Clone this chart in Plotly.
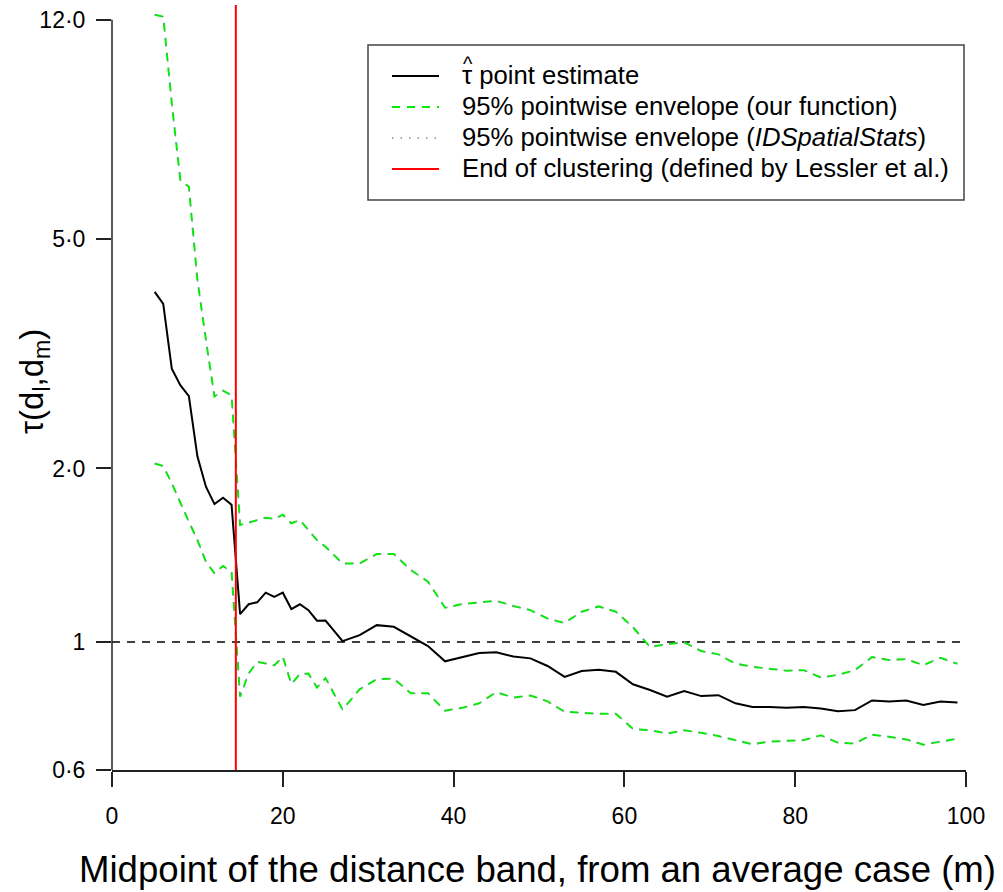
import math
import plotly.graph_objects as go

# ---------------- data ----------------
band_mid = list(range(5, 26)) + list(range(27, 100, 2))

tau_hat = [4.05, 3.86, 2.98, 2.79, 2.67, 2.10, 1.86, 1.735, 1.78, 1.73,
           1.118, 1.163, 1.172, 1.218, 1.198, 1.218, 1.141, 1.163, 1.136, 1.089, 1.09,
           1.004, 1.028, 1.07, 1.063, 1.021, 0.984, 0.926, 0.942, 0.957, 0.960,
           0.944, 0.937, 0.909, 0.870, 0.891, 0.895, 0.888, 0.845, 0.826, 0.804,
           0.822, 0.806, 0.809, 0.783, 0.772, 0.772, 0.769, 0.772, 0.767, 0.759,
           0.762, 0.792, 0.789, 0.792, 0.778, 0.789, 0.786]

env_upper = [12.24, 12.15, 8.6, 6.33, 6.16, 4.25, 3.34, 2.665, 2.73, 2.68,
             1.596, 1.61, 1.628, 1.643, 1.635, 1.663, 1.607, 1.628, 1.564, 1.503, 1.463,
             1.369, 1.369, 1.421, 1.421, 1.333, 1.273, 1.147, 1.164, 1.173, 1.179,
             1.155, 1.136, 1.099, 1.079, 1.129, 1.153, 1.129, 1.061, 0.981, 0.992,
             0.999, 0.965, 0.952, 0.918, 0.906, 0.899, 0.892, 0.894, 0.868, 0.877,
             0.894, 0.942, 0.931, 0.934, 0.912, 0.939, 0.917]

env_lower = [2.04, 2.02, 1.885, 1.74, 1.617, 1.503, 1.378, 1.316, 1.355, 1.324,
             0.804, 0.882, 0.924, 0.918, 0.911, 0.943, 0.846, 0.880, 0.882, 0.834, 0.866,
             0.764, 0.828, 0.862, 0.864, 0.815, 0.815, 0.760, 0.769, 0.783, 0.819,
             0.801, 0.808, 0.789, 0.757, 0.754, 0.751, 0.751, 0.707, 0.703, 0.694,
             0.703, 0.696, 0.687, 0.676, 0.665, 0.672, 0.674, 0.676, 0.689, 0.669,
             0.667, 0.691, 0.685, 0.678, 0.664, 0.672, 0.680]

# IDSpatialStats envelope (coincides with our function's envelope)
ids_upper = env_upper
ids_lower = env_lower

clustering_end = 14.5
null_value = 1

x_ticks = [0, 20, 40, 60, 80, 100]
y_ticks = [0.6, 1, 2, 5, 12]
y_ticktext = ["0\u00b76", "1", "2\u00b70", "5\u00b70", "12\u00b70"]

legend_labels = ["\u03c4 point estimate",
                 "95% pointwise envelope (our function)",
                 "95% pointwise envelope (<i>IDSpatialStats</i>)",
                 "End of clustering (defined by Lessler et al.)"]

# ---------------- figure ----------------
FONT = "Liberation Sans, Arial, Helvetica, sans-serif"
W, H = 1003, 892
L, R, T, B = 112, 37, 5, 122
PW, PH = W - L - R, H - T - B
Y_LO, Y_HI = 0.6, 12.73

GREEN = "#00ee00"
GREY = "#8090a8"

def px_x(p):
    return (p - L) / PW

def px_y(p):
    return (H - B - p) / PH

fig = go.Figure()

fig.add_trace(go.Scatter(x=[0, 100], y=[null_value, null_value], mode="lines",
                         line=dict(color="black", width=1.5, dash="8px,7px"),
                         showlegend=False, hoverinfo="skip"))

for env in (env_upper, env_lower):
    fig.add_trace(go.Scatter(x=band_mid, y=env, mode="lines",
                             line=dict(color=GREEN, width=2, dash="8px,7px"),
                             showlegend=False))
for env in (ids_upper, ids_lower):
    fig.add_trace(go.Scatter(x=band_mid, y=env, mode="lines",
                             line=dict(color=GREY, width=1.3, dash="1.5px,6px"),
                             showlegend=False))

fig.add_trace(go.Scatter(x=band_mid, y=tau_hat, mode="lines",
                         line=dict(color="black", width=2),
                         showlegend=False))

fig.add_trace(go.Scatter(x=[clustering_end, clustering_end], y=[Y_LO, Y_HI], mode="lines",
                         line=dict(color="red", width=2),
                         showlegend=False, hoverinfo="skip"))

shapes = []
# left axis line from 0.6 to 12 only
y12 = (math.log10(12) - math.log10(Y_LO)) / (math.log10(Y_HI) - math.log10(Y_LO))
shapes.append(dict(type="line", xref="paper", yref="paper", x0=0, x1=0, y0=0, y1=y12,
                   line=dict(color="#222222", width=1.5)))

# legend box
LB_L, LB_R, LB_T, LB_B = 368, 964, 45, 200
shapes.append(dict(type="rect", xref="paper", yref="paper",
                   x0=px_x(LB_L), x1=px_x(LB_R), y0=px_y(LB_B), y1=px_y(LB_T),
                   line=dict(color="#444444", width=1.5), fillcolor="white", layer="above"))

item_y = [76, 107, 138, 169]
samples = [dict(color="black", width=2, dash="solid"),
           dict(color=GREEN, width=2, dash="8px,7px"),
           dict(color=GREY, width=1.5, dash="1.5px,7px"),
           dict(color="red", width=2, dash="solid")]
annotations = []
for yy, st, lab in zip(item_y, samples, legend_labels):
    shapes.append(dict(type="line", xref="paper", yref="paper",
                       x0=px_x(392), x1=px_x(439), y0=px_y(yy), y1=px_y(yy),
                       line=st, layer="above"))
    annotations.append(dict(xref="paper", yref="paper", x=px_x(460), y=px_y(yy - 1),
                            text=lab, showarrow=False, xanchor="left", yanchor="middle",
                            font=dict(family=FONT, size=25.7, color="black")))
# hat over tau in the first legend entry
annotations.append(dict(xref="paper", yref="paper", x=px_x(468), y=px_y(64),
                        text="^", showarrow=False, xanchor="center", yanchor="middle",
                        font=dict(family=FONT, size=20, color="black")))

# axis titles
annotations.append(dict(xref="paper", yref="paper", x=px_x(537), y=px_y(869),
                        text="Midpoint of the distance band, from an average case (m)",
                        showarrow=False, xanchor="center", yanchor="middle",
                        font=dict(family=FONT, size=36.6, color="black")))
annotations.append(dict(xref="paper", yref="paper", x=px_x(34), y=px_y(382),
                        text="\u03c4(d<sub>l</sub>,d<sub>m</sub>)", textangle=-90,
                        showarrow=False, xanchor="center", yanchor="middle",
                        font=dict(family=FONT, size=33, color="black")))

fig.update_layout(
    width=W, height=H,
    margin=dict(l=L, r=R, t=T, b=B, pad=0),
    paper_bgcolor="white", plot_bgcolor="white",
    showlegend=False,
    shapes=shapes, annotations=annotations,
    font=dict(family=FONT, color="black"),
    xaxis=dict(range=[0, 100], tickvals=x_ticks, ticks="outside", ticklen=15,
               tickwidth=1.5, tickcolor="#222222", showline=True, linecolor="#222222",
               linewidth=1.5, showgrid=False, zeroline=False, ticklabelstandoff=10,
               tickfont=dict(family=FONT, size=23, color="black")),
    yaxis=dict(type="log", range=[math.log10(Y_LO), math.log10(Y_HI)],
               tickvals=y_ticks, ticktext=y_ticktext, ticks="outside", ticklen=15,
               tickwidth=1.5, tickcolor="#222222", showline=False, showgrid=False,
               zeroline=False, ticklabelstandoff=6,
               tickfont=dict(family=FONT, size=23, color="black")),
)

fig.write_html("out.html", config={"displayModeBar": False},
               post_script="document.body.style.margin='0';")
